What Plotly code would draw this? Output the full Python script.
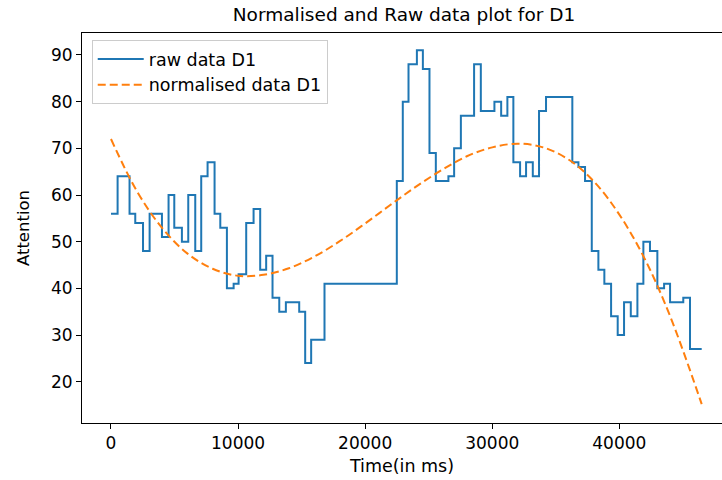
import plotly.graph_objects as go

# ---- data ----
raw_time = [0, 520, 1460, 1910, 2520, 3040, 4010, 4530, 4980, 5580, 6080, 6630,
            7100, 7600, 8150, 8600, 9120, 9650, 10040, 10640, 11220, 11740, 12210,
            12710, 13240, 13760, 14810, 15280, 15750, 16800, 22490, 22960, 23410,
            24070, 24540, 25060, 25560, 26550, 27000, 27530, 28570, 29100, 30170,
            30700, 31190, 31660, 32190, 32660, 33190, 33680, 34230, 36300, 36780,
            37300, 37830, 38350, 38820, 39350, 39870, 40370, 40900, 41420, 41890,
            42410, 42990, 43520, 43990, 45030, 45560, 46480]
raw_attention = [56, 64, 56, 54, 48, 56, 51, 60, 53, 50, 60, 48,
                 64, 67, 56, 53, 40, 41, 43, 54, 57, 44, 47,
                 38, 35, 37, 35, 24, 29, 41, 63, 80, 88,
                 91, 87, 69, 63, 64, 70, 77, 88, 78, 80,
                 77, 81, 67, 64, 67, 64, 78, 81, 67, 66,
                 63, 48, 44, 41, 34, 30, 37, 34, 41, 50,
                 48, 40, 41, 37, 38, 27, 27]

norm_time = [0, 2000, 4000, 6000, 8000, 10000, 12000, 14000, 16000, 18000, 20000,
             22000, 24000, 26000, 28000, 30000, 32000, 34000, 36000, 38000, 40000,
             42000, 44000, 46480]
norm_attention = [72.0, 61.0, 53.0, 47.5, 44.2, 42.7, 42.9, 44.3, 46.8, 50.1, 53.9,
                  57.9, 61.8, 65.3, 68.3, 70.2, 71.0, 70.2, 67.6, 62.9, 55.8,
                  46.3, 34.0, 15.2]

x_ticks = [0, 10000, 20000, 30000, 40000]
y_ticks = [20, 30, 40, 50, 60, 70, 80, 90]

title_text = "Normalised and Raw data plot for D1"
x_label = "Time(in ms)"
y_label = "Attention"
raw_name = "raw data D1"
norm_name = "normalised data D1"

FONT = "DejaVu Sans"

fig = go.Figure()
fig.add_trace(go.Scatter(
    x=raw_time, y=raw_attention, mode="lines", name=raw_name,
    line=dict(color="#1f77b4", width=2, shape="hv"),
    legendgroup="a",
))
fig.add_trace(go.Scatter(
    x=norm_time, y=norm_attention, mode="lines", name=norm_name,
    line=dict(color="#ff7f0e", width=2, dash="8px,4px", shape="spline", smoothing=1.0),
    legendgroup="b",
))

fig.update_layout(
    width=722, height=480,
    template="none",
    paper_bgcolor="white", plot_bgcolor="white",
    margin=dict(l=82, r=0, t=33, b=57, pad=0),
    font=dict(family=FONT, size=17, color="#000000"),
    title=dict(text=title_text, x=404 / 722, xanchor="center", xref="container",
               y=1 - 15 / 480, yanchor="middle", yref="container",
               font=dict(family=FONT, size=18.5, color="#000000")),
    showlegend=True,
    legend=dict(
        x=0.0152, y=0.982, xanchor="left", yanchor="top",
        bgcolor="rgba(255,255,255,0.8)", bordercolor="#cccccc", borderwidth=1,
        font=dict(family=FONT, size=17.5, color="#000000"),
        traceorder="grouped", tracegroupgap=0, itemwidth=46,
        entrywidthmode="pixels", entrywidth=200,
    ),
    xaxis=dict(
        range=[-2281, 48077], tickmode="array", tickvals=x_ticks,
        ticktext=[str(v) for v in x_ticks],
        showgrid=False, zeroline=False, showline=True, mirror=True,
        linecolor="#000000", linewidth=1, ticks="outside", ticklen=5,
        tickcolor="#000000", tickwidth=1, automargin=False,
        tickfont=dict(family=FONT, size=17),
        title=dict(text=x_label, standoff=7, font=dict(family=FONT, size=17.5)),
    ),
    yaxis=dict(
        range=[11.15, 94.71], tickmode="array", tickvals=y_ticks,
        ticktext=[str(v) for v in y_ticks],
        showgrid=False, zeroline=False, showline=True, mirror=False,
        linecolor="#000000", linewidth=1, ticks="outside", ticklen=5,
        tickcolor="#000000", tickwidth=1, automargin=False,
        tickfont=dict(family=FONT, size=17),
        title=dict(text=y_label, standoff=17, font=dict(family=FONT, size=16.5)),
    ),
)

fig.write_html("out.html")
